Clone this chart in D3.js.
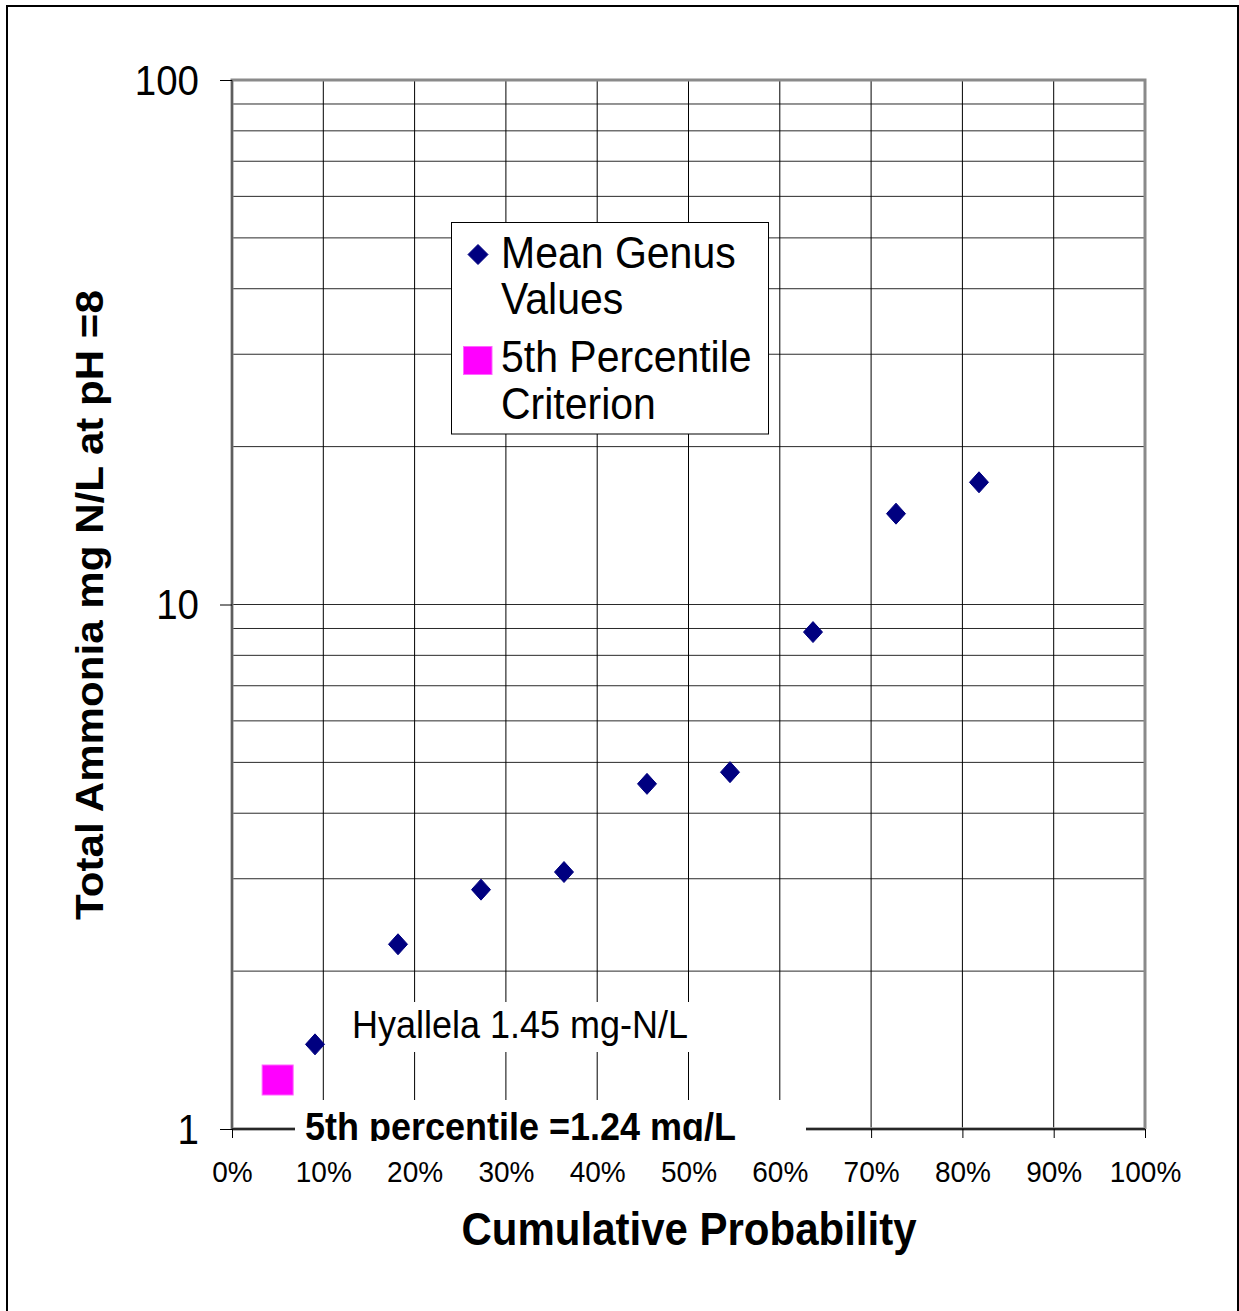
<!DOCTYPE html>
<html>
<head>
<meta charset="utf-8">
<script src="https://cdn.jsdelivr.net/npm/d3@7"></script>
<style>
  html, body { margin: 0; padding: 0; background: #fff; }
  svg { display: block; }
  text { font-family: "Liberation Sans", Arial, sans-serif; fill: #000; }
</style>
</head>
<body>
<svg id="chart" width="1239" height="1311"></svg>
<script>
// Cumulative probability of each genus (rank / (N + 1), N = 10)
const genusProb = [1/11, 2/11, 3/11, 4/11, 5/11, 6/11, 7/11, 8/11, 9/11];
// Mean genus values, total ammonia mg N/L at pH 8
const genusValue = [1.45, 2.25, 2.86, 3.09, 4.55, 4.79, 8.86, 14.9, 17.1];
// 5th percentile criterion
const criterionProb = [0.05];
const criterionValue = [1.24];

const xTicks = [0, 0.1, 0.2, 0.3, 0.4, 0.5, 0.6, 0.7, 0.8, 0.9, 1.0];
const yMajorTicks = [1, 10, 100];
const yGridValues = [2, 3, 4, 5, 6, 7, 8, 9, 10, 20, 30, 40, 50, 60, 70, 80, 90];

const legendItems = ["Mean Genus|Values", "5th Percentile|Criterion"];
const pointLabel = "Hyallela 1.45 mg-N/L";
const criterionLabel = "5th percentile =1.24 mg/L";
const xTitle = "Cumulative Probability";
const yTitle = "Total Ammonia mg N/L at pH =8";

const SY = 1.08; // vertical text stretch

const svg = d3.select("#chart");
const L = 232, R = 1145, T = 80, B = 1129;

const x = d3.scaleLinear().domain([0, 1]).range([L, R]);
const y = d3.scaleLog().domain([1, 100]).range([B, T]);

// outer frame
svg.append("rect").attr("x", 7).attr("y", 6).attr("width", 1231).attr("height", 1330)
  .attr("fill", "#fff").attr("stroke", "#000").attr("stroke-width", 2);

// horizontal gridlines
svg.append("g").selectAll("line").data(yGridValues).join("line")
  .attr("x1", L).attr("x2", R)
  .attr("y1", d => y(d)).attr("y2", d => y(d))
  .attr("stroke", "#2a2a2a").attr("stroke-width", 1);

// vertical gridlines
svg.append("g").selectAll("line").data(xTicks.slice(1, -1)).join("line")
  .attr("x1", d => x(d)).attr("x2", d => x(d))
  .attr("y1", T).attr("y2", B)
  .attr("stroke", "#000").attr("stroke-width", 1);

// plot frame (top, left, right in grey)
svg.append("path")
  .attr("d", `M${L},${B} L${L},${T} L${R},${T} L${R},${B}`)
  .attr("fill", "none").attr("stroke", "#8a8a8a").attr("stroke-width", 3);
svg.append("line").attr("x1", L).attr("x2", R).attr("y1", B).attr("y2", B)
  .attr("stroke", "#9a9a9a").attr("stroke-width", 3.5);
svg.append("line").attr("x1", L).attr("x2", R).attr("y1", B).attr("y2", B)
  .attr("stroke", "#000").attr("stroke-width", 1.6);
svg.append("line").attr("x1", L).attr("x2", L).attr("y1", T).attr("y2", B)
  .attr("stroke", "#333").attr("stroke-width", 1);

// x axis
const xAxis = svg.append("g").attr("transform", `translate(0,${B})`)
  .call(d3.axisBottom(x).tickValues(xTicks).tickSize(9).tickFormat(d3.format(".0%")));
xAxis.select(".domain").remove();
xAxis.selectAll(".tick line").attr("stroke", "#000").attr("stroke-width", 1);
xAxis.selectAll(".tick text")
  .attr("y", 53 / SY).attr("dy", 0)
  .attr("transform", `scale(1,${SY})`)
  .style("font-size", "28px").style("font-family", "'Liberation Sans', Arial, sans-serif");

// y axis
const yAxis = svg.append("g").attr("transform", `translate(${L},0)`)
  .call(d3.axisLeft(y).tickValues(yMajorTicks).tickSize(12).tickFormat(d3.format("d")));
yAxis.select(".domain").remove();
yAxis.selectAll(".tick line").attr("stroke", "#000").attr("stroke-width", 1);
yAxis.selectAll(".tick text")
  .attr("x", -33).attr("y", 14 / SY).attr("dy", 0)
  .attr("transform", `scale(1,${SY})`)
  .style("font-size", "38.5px").style("font-family", "'Liberation Sans', Arial, sans-serif");

function stretchedText(sel, tx, ty, str, size, weight, anchor, rotate) {
  const g = sel.append("g").attr("transform", `translate(${tx},${ty}) scale(1,${SY})` + (rotate ? ` rotate(${rotate})` : ""));
  return g.append("text").attr("x", 0).attr("y", 0)
    .attr("text-anchor", anchor || "start")
    .style("font-size", size + "px").style("font-weight", weight || "normal")
    .text(str);
}

// data point annotation box
svg.append("rect").attr("x", 345).attr("y", 1002).attr("width", 352).attr("height", 50).attr("fill", "#fff");
stretchedText(svg, 352, 1038, pointLabel, 36, "normal", "start");

// criterion label box, clipped at its lower edge
const clip = svg.append("defs").append("clipPath").attr("id", "critClip");
clip.append("rect").attr("x", 295).attr("y", 1100).attr("width", 511).attr("height", 41);
svg.append("rect").attr("x", 295).attr("y", 1100).attr("width", 511).attr("height", 41).attr("fill", "#fff");
const critG = svg.append("g").attr("clip-path", "url(#critClip)");
stretchedText(critG, 305, 1139.5, criterionLabel, 36, "bold", "start");

// genus points (diamonds)
const diamond = (cx, cy, w, h) => `M${cx},${cy - h} L${cx + w},${cy} L${cx},${cy + h} L${cx - w},${cy} Z`;
svg.append("g").selectAll("path").data(genusProb.map((p, i) => [p, genusValue[i]])).join("path")
  .attr("d", d => diamond(x(d[0]), y(d[1]), 9.5, 10.5))
  .attr("fill", "#000080").attr("stroke", "#000080").attr("stroke-width", 1);

// criterion point (square)
svg.append("g").selectAll("rect").data(criterionProb.map((p, i) => [p, criterionValue[i]])).join("rect")
  .attr("x", d => x(d[0]) - 15.5).attr("y", d => y(d[1]) - 15)
  .attr("width", 31).attr("height", 30)
  .attr("fill", "#ff00ff").attr("stroke", "#ff66ff").attr("stroke-width", 1);

// legend
const lg = svg.append("g");
lg.append("rect").attr("x", 451.5).attr("y", 222.5).attr("width", 317).attr("height", 211.5)
  .attr("fill", "#fff").attr("stroke", "#000").attr("stroke-width", 1);
lg.append("path").attr("d", diamond(478, 254.5, 10, 10)).attr("fill", "#000080").attr("stroke", "#000080");
lg.append("rect").attr("x", 463.5).attr("y", 346.5).attr("width", 28.5).attr("height", 28)
  .attr("fill", "#ff00ff").attr("stroke", "#ff66ff");
const legendBaselines = [[268, 314], [372, 419]];
legendItems.forEach((item, i) => {
  item.split("|").forEach((line, j) => {
    stretchedText(lg, 501, legendBaselines[i][j], line, 41, "normal", "start");
  });
});

// axis titles
stretchedText(svg, 689, 1245, xTitle, 42, "bold", "middle");
stretchedText(svg, 103, 605, yTitle, 39, "bold", "middle", -90);
</script>
</body>
</html>
